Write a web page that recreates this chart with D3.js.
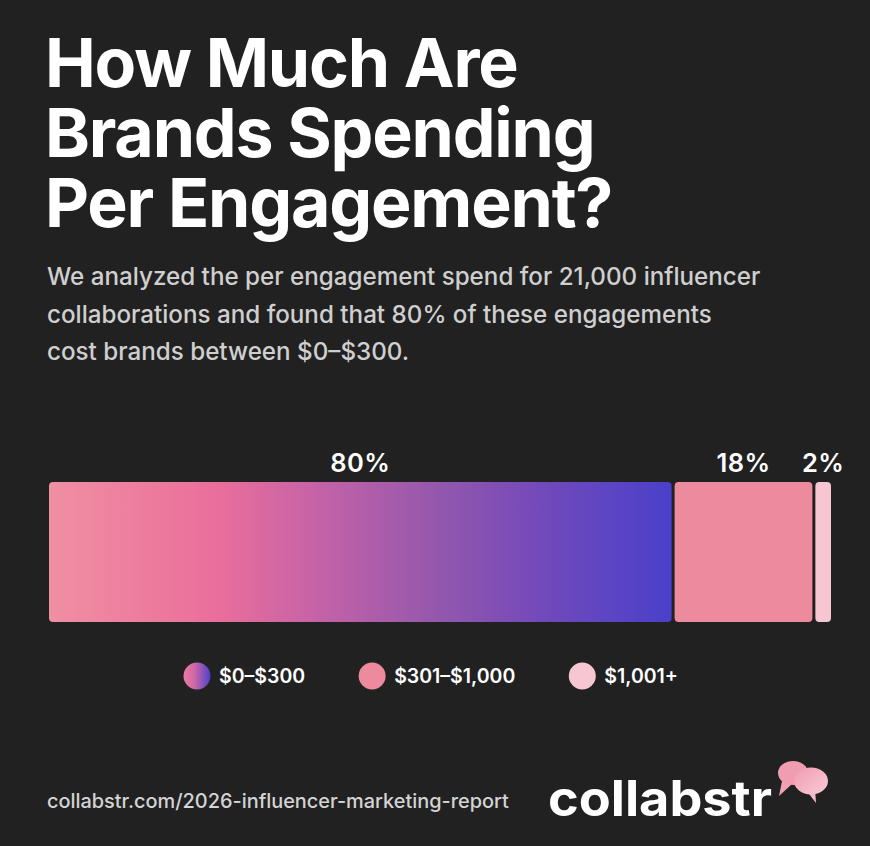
<!DOCTYPE html>
<html><head><meta charset="utf-8">
<script src="https://cdn.jsdelivr.net/npm/d3@7"></script>
<style>
html,body{margin:0;padding:0;background:#212121;}
svg{display:block;}
text{font-family:Inter,"Noto Sans",sans-serif;}
</style></head>
<body>
<script>
const titleLines = ["How Much Are", "Brands Spending", "Per Engagement?"];
const subtitleLines = [
  "We analyzed the per engagement spend for 21,000 influencer",
  "collaborations and found that 80% of these engagements",
  "cost brands between $0\u2013$300."
];
const categories = ["$0\u2013$300", "$301\u2013$1,000", "$1,001+"];
const shares = [80, 18, 2];
const valueLabels = ["80%", "18%", "2%"];
const sourceText = "collabstr.com/2026-influencer-marketing-report";
const brandText = "collabstr";

const W = 870, H = 846;
const svg = d3.select("body").append("svg").attr("width", W).attr("height", H);
svg.append("rect").attr("width", W).attr("height", H).attr("fill", "#212121");

const defs = svg.append("defs");
const g1 = defs.append("linearGradient").attr("id", "gMain").attr("x1", "0%").attr("x2", "100%").attr("y1", "0%").attr("y2", "0%");
[[0, "#f08fa3"], [0.27, "#ea6e9b"], [0.42, "#c863a6"], [0.62, "#9557ad"], [0.8, "#7049bb"], [1, "#4a40ca"]]
  .forEach(([o, c]) => g1.append("stop").attr("offset", o).attr("stop-color", c));
const g2 = defs.append("linearGradient").attr("id", "gLeg").attr("x1", "0%").attr("x2", "100%");
[[0, "#ee7aa0"], [0.4, "#d068a6"], [1, "#4a40ca"]].forEach(([o, c]) => g2.append("stop").attr("offset", o).attr("stop-color", c));
const g3 = defs.append("linearGradient").attr("id", "gBub").attr("x1", "0%").attr("x2", "100%").attr("y1", "0%").attr("y2", "100%");
[[0, "#f29bb0"], [1, "#f8cbd6"]].forEach(([o, c]) => g3.append("stop").attr("offset", o).attr("stop-color", c));

const fills = ["url(#gMain)", "#ee8a9e", "#f7c6d3"];
const legendFills = ["url(#gLeg)", "#ee8a9e", "#f7c6d3"];

// Title
svg.append("g").selectAll("text").data(titleLines).join("text")
  .attr("x", 45).attr("y", (d, i) => 87 + i * 70)
  .attr("fill", "#ffffff").attr("font-size", 68).attr("font-weight", 700)
  .attr("letter-spacing", -1.2)
  .text(d => d);

// Subtitle
svg.append("g").selectAll("text").data(subtitleLines).join("text")
  .attr("x", 47).attr("y", (d, i) => 285 + i * 37.5)
  .attr("fill", "#cfcfcf").attr("font-size", 24.2).attr("font-weight", 500)
  .text(d => d);

// Bars
const x = d3.scaleLinear().domain([0, d3.sum(shares)]).range([49, 831]);
const gap = 3;
const starts = d3.cumsum([0, ...shares]);
const barY = 482, barH = 140;
const barData = shares.map((v, i) => ({ v, i, x0: x(starts[i]), x1: x(starts[i] + v) - (i < shares.length - 1 ? gap : 0) }));
svg.append("g").selectAll("rect").data(barData).join("rect")
  .attr("x", d => d.x0).attr("y", barY)
  .attr("width", d => d.x1 - d.x0).attr("height", barH)
  .attr("rx", 4).attr("fill", d => fills[d.i]);
svg.append("g").selectAll("text").data(barData).join("text")
  .attr("x", d => (d.x0 + d.x1) / 2).attr("y", 472)
  .attr("text-anchor", "middle").attr("fill", "#ffffff")
  .attr("font-size", 25.5).attr("font-weight", 600).attr("letter-spacing", 0.4)
  .text(d => valueLabels[d.i]);

// Legend
const leg = svg.append("g");
let lx = 184;
categories.forEach((c, i) => {
  leg.append("circle").attr("cx", lx + 13).attr("cy", 676).attr("r", 13.5).attr("fill", legendFills[i]);
  const t = leg.append("text").attr("x", lx + 35).attr("y", 683)
    .attr("fill", "#ffffff").attr("font-size", 19.5).attr("font-weight", 600).text(c);
  const w = t.node().getComputedTextLength();
  lx = lx + 35 + w + 54;
});

// Footer source
svg.append("text").attr("x", 47).attr("y", 808)
  .attr("fill", "#d4d4d4").attr("font-size", 19.9).attr("font-weight", 500)
  .text(sourceText);

// Brand
svg.append("text").attr("x", 548).attr("y", 816)
  .attr("fill", "#ffffff").attr("font-size", 49).attr("font-weight", 700)
  .attr("textLength", 224).attr("lengthAdjust", "spacingAndGlyphs")
  .text(brandText);
const bub = svg.append("g");
bub.append("path").attr("d", "M782,781 L779,796 L792,784 Z").attr("fill", "#f0a0b3");
bub.append("ellipse").attr("cx", 793).attr("cy", 773).attr("rx", 15).attr("ry", 12).attr("fill", "#f09db1");
bub.append("path").attr("d", "M806,790 L816,803 L815,788 Z").attr("fill", "#f5b9c8");
bub.append("ellipse").attr("cx", 811).attr("cy", 781).attr("rx", 17).attr("ry", 13.5).attr("fill", "url(#gBub)");
</script>
</body></html>
